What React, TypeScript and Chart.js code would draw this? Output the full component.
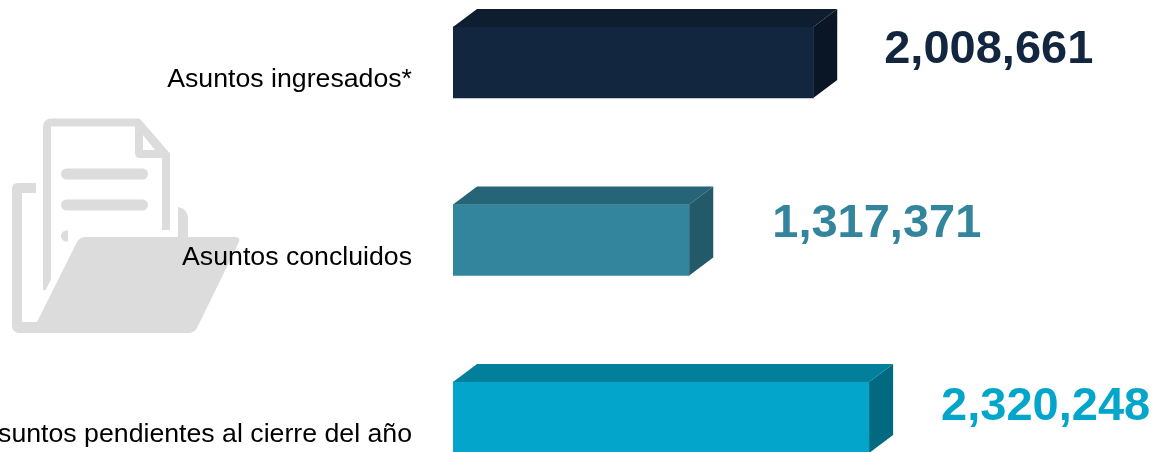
import React, { useEffect, useRef } from "react";
import { Chart, registerables } from "chart.js";

Chart.register(...registerables);

const categories = ["Asuntos ingresados*", "Asuntos concluidos", "Asuntos pendientes al cierre del año"];
const values = [2008661, 1317371, 2320248];
const frontColors = ["#12263F", "#32859C", "#03A6CA"];
const topColors = ["#0E1D30", "#266577", "#027F9A"];
const sideColors = ["#0A1626", "#225A6A", "#016A81"];
const valueTextColors = ["#12263F", "#32859C", "#03A6CA"];
const valueLabelOffsetX = [71, 83, 72];
const valueLabelOffsetY = [-12.5, -16, -10.5];

const WIDTH = 1156;
const PAGE_HEIGHT = 452;
const CANVAS_HEIGHT = 640;
const CANVAS_TOP = -60;
const DEPTH_X = 24;
const DEPTH_Y = 18;
const FLOOR_SHIFT = -17.5;
const FONT = '"Liberation Sans", Arial, sans-serif';
const ICON = "#DCDCDC";

const iconPlugin = {
  id: "folderIcon",
  beforeDraw(chart: any) {
    const c = chart.ctx;
    c.save();
    c.translate(0, -CANVAS_TOP);
    c.fillStyle = ICON;
    c.strokeStyle = ICON;
    c.lineJoin = "round";
    c.lineCap = "butt";
    c.lineWidth = 8;
    c.stroke(new Path2D("M47 290 L47 127 Q47 122.5 52 122.5 L138 122.5 L166 155 L166 230"));
    c.fill(new Path2D("M135 120 L140 120 L170 154 L170 158 L140 158 Q135 158 135 153 Z"));
    c.fillStyle = "#FFFFFF";
    c.fill(new Path2D("M143 135 L155 150 L143 150 Z"));
    c.fillStyle = ICON;
    c.lineCap = "round";
    c.lineWidth = 11;
    c.stroke(new Path2D("M66.5 174 L142.5 174 M66.5 205 L142.5 205 M66.5 236 L100 236"));
    c.lineCap = "butt";
    c.fill(new Path2D("M178 207 Q188 209 188 219 L188 240 L178 240 Z"));
    c.strokeStyle = "#FFFFFF";
    c.lineWidth = 13;
    c.stroke(new Path2D("M82 232 L36 324"));
    c.fillStyle = "#FFFFFF";
    c.fill(new Path2D("M68 230 L110 230 L110 237 L68 250 Z"));
    c.fillStyle = ICON;
    c.fill(
      new Path2D(
        "M36 183 L18 183 Q12 183 12 189 L12 325 Q12 333 20 333 L188 333 Q194 333 197 328 L238 244 Q242 237 235 237 L86 237 Q80 237 77 242 L37 322 L22 322 L22 193 L36 193 Z"
      )
    );
    c.restore();
  },
};

const boxPlugin = {
  id: "box3d",
  beforeDatasetsDraw(chart: any) {
    chart.ctx.save();
    chart.ctx.translate(0, FLOOR_SHIFT);
  },
  afterDatasetsDraw(chart: any) {
    const c = chart.ctx;
    chart.getDatasetMeta(0).data.forEach((bar: any, i: number) => {
      const right = bar.x;
      const left = bar.base;
      const top = bar.y - bar.height / 2;
      const bottom = bar.y + bar.height / 2;
      c.fillStyle = topColors[i];
      c.beginPath();
      c.moveTo(left, top);
      c.lineTo(left + DEPTH_X, top - DEPTH_Y);
      c.lineTo(right + DEPTH_X, top - DEPTH_Y);
      c.lineTo(right, top);
      c.closePath();
      c.fill();
      c.fillStyle = sideColors[i];
      c.beginPath();
      c.moveTo(right, top);
      c.lineTo(right + DEPTH_X, top - DEPTH_Y);
      c.lineTo(right + DEPTH_X, bottom - DEPTH_Y);
      c.lineTo(right, bottom);
      c.closePath();
      c.fill();
      c.fillStyle = valueTextColors[i];
      c.font = `bold 47px ${FONT}`;
      c.textAlign = "left";
      c.textBaseline = "middle";
      c.fillText(
        values[i].toLocaleString("en-US"),
        right + valueLabelOffsetX[i],
        bar.y + valueLabelOffsetY[i]
      );
    });
    c.restore();
  },
};

export default function App() {
  const ref = useRef<HTMLCanvasElement>(null);
  useEffect(() => {
    document.body.style.margin = "0";
    document.body.style.overflow = "hidden";
    const chart = new Chart(ref.current as HTMLCanvasElement, {
      type: "bar",
      data: {
        labels: categories,
        datasets: [
          {
            data: values,
            backgroundColor: frontColors,
            barThickness: 71,
            borderWidth: 0,
          },
        ],
      },
      options: {
        indexAxis: "y",
        responsive: false,
        animation: false,
        devicePixelRatio: 1,
        layout: { autoPadding: false, padding: { top: 51.25, bottom: 56.25, left: 0, right: 0 } },
        plugins: { legend: { display: false }, tooltip: { enabled: false } },
        scales: {
          x: { display: false, min: 0, max: 3920000 },
          y: {
            afterFit(scale: any) {
              scale.width = 453;
            },
            grid: { display: false, tickLength: 41 },
            border: { display: false },
            ticks: {
              padding: 0,
              color: "#000000",
              font: { family: FONT, size: 26.7 },
              autoSkip: false,
              maxRotation: 0,
            },
          },
        },
      },
      plugins: [iconPlugin, boxPlugin],
    } as any);
    return () => chart.destroy();
  }, []);
  return (
    <div
      style={{
        position: "fixed",
        left: 0,
        top: 0,
        width: WIDTH,
        height: PAGE_HEIGHT,
        overflow: "hidden",
        background: "#FFFFFF",
      }}
    >
      <canvas
        ref={ref}
        width={WIDTH}
        height={CANVAS_HEIGHT}
        style={{ position: "absolute", left: 0, top: CANVAS_TOP, display: "block" }}
      />
    </div>
  );
}
